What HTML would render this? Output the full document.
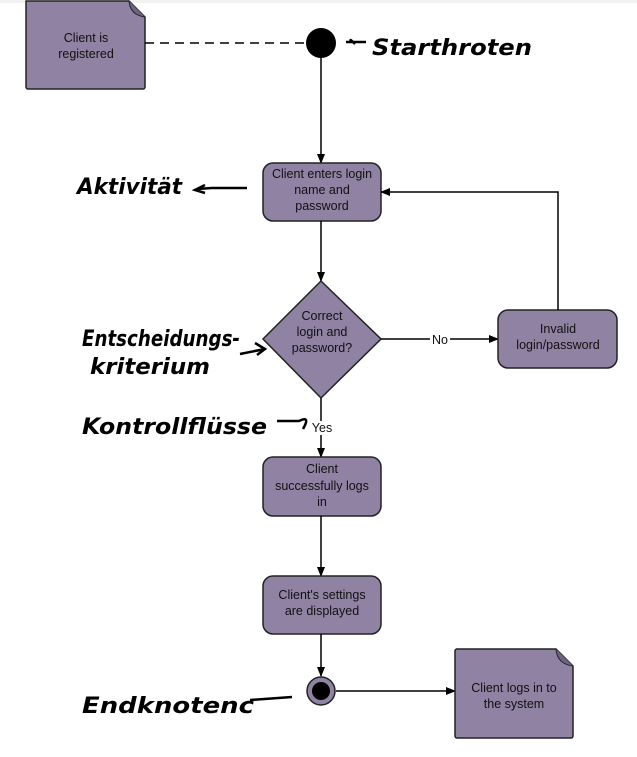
<!DOCTYPE html>
<html><head><meta charset="utf-8"><style>
html,body{margin:0;padding:0;background:#fff;width:637px;height:757px;overflow:hidden}
svg text{font-family:"Liberation Sans",sans-serif}
.t{font-size:12.5px;fill:#111;text-anchor:middle}
.h{font-family:"DejaVu Sans",sans-serif;font-size:22px;fill:#000;font-style:italic;font-weight:bold}
</style></head><body>
<svg width="637" height="757" viewBox="0 0 637 757" xmlns="http://www.w3.org/2000/svg">
<defs><marker id="a" markerWidth="10" markerHeight="10" refX="9" refY="5" orient="auto" markerUnits="userSpaceOnUse"><path d="M0,1 L10,5 L0,9 Z" fill="#000"/></marker></defs>
<rect x="0" y="0" width="637" height="3" fill="#f2f2f2"/>
<!-- note 1 -->
<path d="M27,1 H129 L145,17 V87 a2,2 0 0 1 -2,2 H28 a2,2 0 0 1 -2,-2 V1 Z" fill="#8f82a3" stroke="#222" stroke-width="1.5"/>
<path d="M129,1 Q130,15 145,17" fill="#6d6280" stroke="#222" stroke-width="1"/>
<text class="t" x="86" y="42">Client is</text><text class="t" x="86" y="58">registered</text>
<line x1="145" y1="43" x2="306" y2="43" stroke="#000" stroke-width="1.5" stroke-dasharray="9,6"/>
<circle cx="321" cy="43" r="15" fill="#000"/>
<line x1="321" y1="58" x2="321" y2="163" stroke="#000" stroke-width="1.5" marker-end="url(#a)"/>
<rect x="263" y="163" width="118" height="58" rx="10" fill="#8f82a3" stroke="#222" stroke-width="1.5"/>
<text class="t" x="322" y="178">Client enters login</text><text class="t" x="322" y="194">name and</text><text class="t" x="322" y="210">password</text>
<line x1="321" y1="221" x2="321" y2="281" stroke="#000" stroke-width="1.5" marker-end="url(#a)"/>
<path d="M321,281 L381,339 L321,398 L263,339 Z" fill="#8f82a3" stroke="#222" stroke-width="1.5"/>
<text class="t" x="322" y="320">Correct</text><text class="t" x="322" y="336">login and</text><text class="t" x="322" y="352">password?</text>
<line x1="381" y1="339" x2="498" y2="339" stroke="#000" stroke-width="1.5" marker-end="url(#a)"/>
<rect x="430" y="332" width="20" height="14" fill="#fff"/><text class="t" x="440" y="344">No</text>
<rect x="498" y="310" width="119" height="58" rx="10" fill="#8f82a3" stroke="#222" stroke-width="1.5"/>
<text class="t" x="558" y="333">Invalid</text><text class="t" x="558" y="349">login/password</text>
<polyline points="558,310 558,192 381,192" fill="none" stroke="#000" stroke-width="1.5" marker-end="url(#a)"/>
<line x1="321" y1="398" x2="321" y2="457" stroke="#000" stroke-width="1.5" marker-end="url(#a)"/>
<rect x="312" y="421" width="22" height="14" fill="#fff"/><text class="t" x="322" y="432">Yes</text>
<rect x="263" y="457" width="118" height="59" rx="10" fill="#8f82a3" stroke="#222" stroke-width="1.5"/>
<text class="t" x="322" y="473">Client</text><text class="t" x="322" y="490">successfully logs</text><text class="t" x="322" y="506">in</text>
<line x1="321" y1="516" x2="321" y2="576" stroke="#000" stroke-width="1.5" marker-end="url(#a)"/>
<rect x="263" y="576" width="118" height="58" rx="10" fill="#8f82a3" stroke="#222" stroke-width="1.5"/>
<text class="t" x="322" y="599">Client's settings</text><text class="t" x="322" y="615">are displayed</text>
<line x1="321" y1="634" x2="321" y2="676" stroke="#000" stroke-width="1.5" marker-end="url(#a)"/>
<circle cx="321" cy="691" r="14" fill="#8f82a3" stroke="#222" stroke-width="1.5"/>
<circle cx="321" cy="691" r="9" fill="#000"/>
<line x1="336" y1="691" x2="455" y2="691" stroke="#000" stroke-width="1.5" marker-end="url(#a)"/>
<path d="M456,649 H556 L573,666 V736 a2,2 0 0 1 -2,2 H457 a2,2 0 0 1 -2,-2 V651 a2,2 0 0 1 2,-2 Z" fill="#8f82a3" stroke="#222" stroke-width="1.5"/>
<path d="M556,649 Q557,664 573,666" fill="#6d6280" stroke="#222" stroke-width="1"/>
<text class="t" x="514" y="692">Client logs in to</text><text class="t" x="514" y="708">the system</text>
<!-- handwriting -->
<path d="M355,44 q-6,-6 -4,-3 M346,42 h20" stroke="#000" stroke-width="2.5" fill="none"/>
<text class="h" x="372" y="55" textLength="160" lengthAdjust="spacingAndGlyphs">Starthroten</text>
<text class="h" x="77" y="194" textLength="105" lengthAdjust="spacingAndGlyphs">Aktivität</text>
<path d="M205,185 l-10,5 10,3 M197,189 l15,-1 h35" stroke="#000" stroke-width="2.5" fill="none"/>
<text class="h" x="82" y="346" textLength="158" lengthAdjust="spacingAndGlyphs">Entscheidungs-</text>
<text class="h" x="90" y="374" textLength="120" lengthAdjust="spacingAndGlyphs">kriterium</text>
<path d="M240,354 l25,-5 M255,343 l10,6 -8,6" stroke="#000" stroke-width="2.5" fill="none"/>
<text class="h" x="82" y="434" textLength="185" lengthAdjust="spacingAndGlyphs">Kontrollflüsse</text>
<path d="M277,421 h22 q12,-6 4,8" stroke="#000" stroke-width="2.5" fill="none"/>
<text class="h" x="82" y="713" textLength="172" lengthAdjust="spacingAndGlyphs">Endknotenc</text>
<path d="M250,700 l42,-3" stroke="#000" stroke-width="2.5" fill="none"/>
</svg>
</body></html>
